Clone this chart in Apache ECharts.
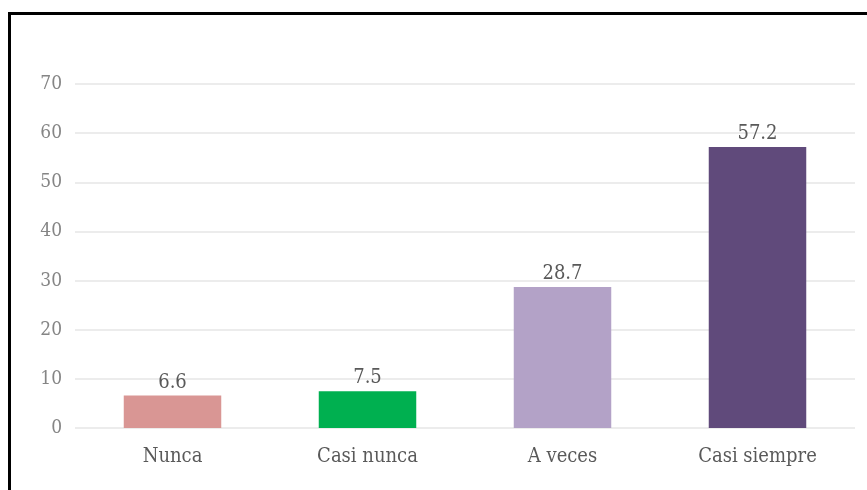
<!DOCTYPE html>
<html>
<head>
<meta charset="utf-8">
<script src="https://cdn.jsdelivr.net/npm/echarts@6/dist/echarts.min.js"></script>
<style>
  html, body { margin: 0; padding: 0; background: #fff; }
  #frame {
    position: absolute; left: 8px; top: 12px; width: 870px; height: 490px;
    border-top: 3px solid #000; border-left: 3px solid #000;
  }
  #chart { position: absolute; left: 0; top: 0; width: 867px; height: 490px; }
</style>
</head>
<body>
<div id="frame"></div>
<div id="chart"></div>
<script>
const categories = ['Nunca', 'Casi nunca', 'A veces', 'Casi siempre']
const values = [6.6, 7.5, 28.7, 57.2]
const barColors = ['#d99694', '#00b050', '#b3a2c7', '#604a7b']

const font = '"DejaVu Serif Condensed", "DejaVu Serif", serif'

let chart = echarts.init(document.getElementById('chart'))
chart.setOption({
    animation: false,
    grid: {
        left: 75,
        right: 12,
        top: 84,
        bottom: 62
    },
    xAxis: {
        type: 'category',
        data: categories,
        axisLine: { show: false },
        axisTick: { show: false },
        axisLabel: {
            color: '#595959',
            fontFamily: font,
            fontSize: 20,
            margin: 19
        }
    },
    yAxis: {
        type: 'value',
        min: 0,
        max: 70,
        interval: 10,
        axisLine: { show: false },
        axisTick: { show: false },
        splitLine: { lineStyle: { color: '#ececec', width: 2 } },
        axisLabel: {
            color: '#858585',
            fontFamily: font,
            fontSize: 19,
            margin: 13
        }
    },
    series: [
        {
            type: 'bar',
            barWidth: '50%',
            data: values.map((v, i) => ({
                value: v,
                itemStyle: { color: barColors[i] }
            })),
            label: {
                show: true,
                position: 'top',
                distance: 3,
                color: '#595959',
                fontFamily: font,
                fontSize: 20
            }
        }
    ]
})
</script>
</body>
</html>
